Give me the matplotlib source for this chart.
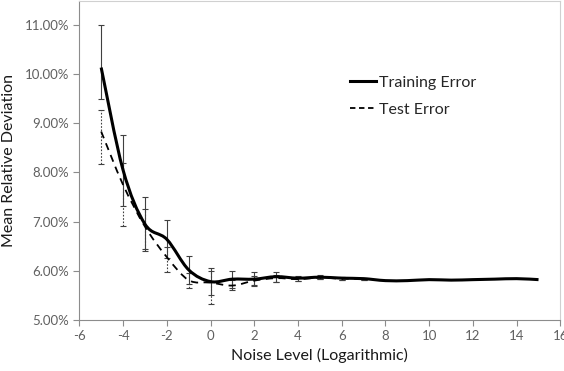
import matplotlib
matplotlib.use('Agg')
import matplotlib.pyplot as plt
from matplotlib.path import Path
from matplotlib.patches import PathPatch
from matplotlib.lines import Line2D
from matplotlib.ticker import FuncFormatter

# noise level (log), training error, test error, in percent
noise = [-5, -4, -3, -2, -1, 0, 1, 2, 3, 4, 5, 6, 7, 8, 9, 10, 11, 12, 13, 14, 15]
train = [10.13, 8.05, 6.95, 6.64, 6.02, 5.78, 5.83, 5.83, 5.88, 5.85, 5.87, 5.85, 5.84,
         5.80, 5.80, 5.82, 5.81, 5.82, 5.83, 5.84, 5.82]
train_lo = [9.49, 7.32, 6.41, 6.25, 5.73, 5.51, 5.66, 5.70, 5.77, 5.79, 5.83, 5.82, 5.82]
train_hi = [11.00, 8.76, 7.49, 7.03, 6.31, 6.05, 6.00, 5.98, 5.98, 5.90, 5.91, 5.88, 5.86]

test_noise = [-5, -4, -3, -2, -1, 0, 1, 2, 3, 4, 5, 6, 7]
test = [8.83, 7.75, 6.90, 6.28, 5.81, 5.76, 5.70, 5.80, 5.85, 5.83, 5.86, 5.84, 5.84]
test_lo = [8.17, 6.91, 6.45, 5.98, 5.65, 5.33, 5.60, 5.72, 5.78, 5.80, 5.83, 5.82, 5.82]
test_hi = [9.27, 8.20, 7.26, 6.48, 5.95, 6.00, 5.82, 5.90, 5.92, 5.88, 5.89, 5.87, 5.86]

xticks = list(range(-6, 17, 2))
yticks = [5, 6, 7, 8, 9, 10, 11]

plt.rcParams['font.family'] = ['Lato', 'DejaVu Sans']
plt.rcParams['axes.unicode_minus'] = False


# smooth line like the spreadsheet one: bezier segments through the points
def smooth_path(xs, ys):
    pts = list(zip(xs, ys))
    verts = [pts[0]]
    codes = [Path.MOVETO]
    n = len(pts)
    for i in range(n - 1):
        p0 = pts[i - 1] if i > 0 else pts[i]
        p1 = pts[i]
        p2 = pts[i + 1]
        p3 = pts[i + 2] if i + 2 < n else pts[i + 1]
        c1 = (p1[0] + (p2[0] - p0[0]) / 6, p1[1] + (p2[1] - p0[1]) / 6)
        c2 = (p2[0] - (p3[0] - p1[0]) / 6, p2[1] - (p3[1] - p1[1]) / 6)
        verts += [c1, c2, p2]
        codes += [Path.CURVE4] * 3
    return Path(verts, codes)


fig = plt.figure(figsize=(5.64, 3.71), dpi=100)
ax = fig.add_axes([0.1406, 0.1375, 0.853, 0.8595])

# error bars
n_tr = len(train_lo)
ax.errorbar(noise[:n_tr], train[:n_tr],
            yerr=[[m - l for m, l in zip(train[:n_tr], train_lo)],
                  [h - m for m, h in zip(train[:n_tr], train_hi)]],
            fmt='none', ecolor='#404040', elinewidth=0.8, capsize=2, capthick=0.8, zorder=2)
eb = ax.errorbar(test_noise, test,
                 yerr=[[m - l for m, l in zip(test, test_lo)],
                       [h - m for m, h in zip(test, test_hi)]],
                 fmt='none', ecolor='#404040', elinewidth=0.8, capsize=2, capthick=0.8, zorder=2)
for lc in eb[2]:
    lc.set_linestyle((0, (1.5, 1.5)))

ax.add_patch(PathPatch(smooth_path(noise, train), facecolor='none', edgecolor='black',
                       lw=2.2, zorder=3))
ax.add_patch(PathPatch(smooth_path(test_noise, test), facecolor='none', edgecolor='black',
                       lw=1.3, linestyle=(0, (4, 3)), zorder=3))

ax.set_xlim(-6, 16)
ax.set_ylim(5, 11.48)
ax.set_xticks(xticks)
ax.set_yticks(yticks)
ax.yaxis.set_major_formatter(FuncFormatter(lambda v, p: '{:.2f}%'.format(v)))

for side in ['left', 'bottom']:
    ax.spines[side].set_color('#8c8c8c')
for side in ['top', 'right']:
    ax.spines[side].set_color('#d0d0d0')
ax.tick_params(direction='out', length=4, width=0.8, color='#8c8c8c',
               labelcolor='#606060', labelsize=9.5)

ax.set_xlabel('Noise Level (Logarithmic)', fontsize=11.5, labelpad=4, color='#1a1a1a')
ax.set_ylabel('Mean Relative Deviation', fontsize=11.5, labelpad=6, color='#1a1a1a')

handles = [Line2D([], [], color='black', lw=2.2),
           Line2D([], [], color='black', lw=1.3, linestyle=(0, (3, 2)))]
leg = fig.legend(handles, ['Training Error', 'Test Error'], loc='upper left',
                 bbox_to_anchor=(0.595, 0.835), frameon=False, fontsize=11.5,
                 handlelength=1.6, handletextpad=0.2, labelspacing=0.8)
for t in leg.get_texts():
    t.set_color('#262626')

fig.savefig('out.png', dpi=100)
